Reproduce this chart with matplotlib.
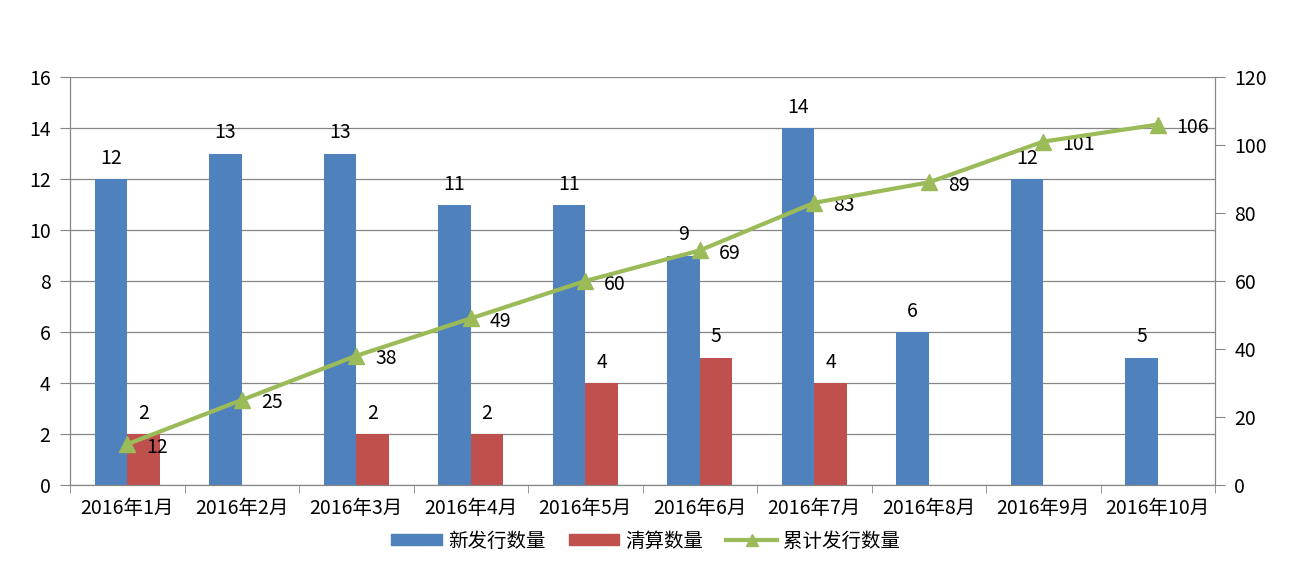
import matplotlib
matplotlib.use("Agg")
import matplotlib.pyplot as plt
import numpy as np
from matplotlib.lines import Line2D
from matplotlib.patches import Patch

plt.rcParams['font.family'] = ['Noto Sans CJK SC', 'DejaVu Sans']

categories = ["2016年1月", "2016年2月", "2016年3月", "2016年4月", "2016年5月",
              "2016年6月", "2016年7月", "2016年8月", "2016年9月", "2016年10月"]
new_issue = [12, 13, 13, 11, 11, 9, 14, 6, 12, 5]
cleared = [2, 0, 2, 2, 4, 5, 4, 0, 0, 0]
cumulative = [12, 25, 38, 49, 60, 69, 83, 89, 101, 106]
labels = ["新发行数量", "清算数量", "累计发行数量"]

blue = "#4F81BD"
red = "#C0504D"
green = "#9BBB59"
grid = "#868686"
FS = 14

fig = plt.figure(figsize=(12.91, 5.73), dpi=100)
ax = fig.add_axes([70/1291, 1-485/573, (1215-70)/1291, (485-77)/573])
ax2 = ax.twinx()

x = np.arange(len(categories))
w = 0.285
ax.bar(x - w/2, new_issue, w, color=blue, zorder=2)
ax.bar(x + w/2, cleared, w, color=red, zorder=2)

for xi, v in zip(x, new_issue):
    ax.annotate(str(v), (xi - w/2, v), xytext=(0, 10), textcoords="offset pixels",
                ha="center", va="bottom", fontsize=FS)
for xi, v in zip(x, cleared):
    if v:
        ax.annotate(str(v), (xi + w/2, v), xytext=(0, 10), textcoords="offset pixels",
                    ha="center", va="bottom", fontsize=FS)

ax2.plot(x, cumulative, color=green, lw=3, marker="^", ms=11, zorder=5, clip_on=False)
for xi, v in zip(x, cumulative):
    ax2.annotate(str(v), (xi, v), xytext=(19, -3), textcoords="offset pixels",
                 ha="left", va="center", fontsize=FS)

ax.set_xlim(-0.5, len(categories) - 0.5)
ax.set_ylim(0, 16)
ax.set_yticks(range(0, 17, 2))
ax2.set_ylim(0, 120)
ax2.set_yticks(range(0, 121, 20))

ax.set_xticks(x)
ax.set_xticklabels(categories, fontsize=FS)
ax.set_xticks(np.arange(-0.5, len(categories), 1), minor=True)
ax.tick_params(axis="x", which="major", length=0, pad=9)
ax.tick_params(axis="x", which="minor", length=6, color=grid, direction="out")
ax.tick_params(axis="y", length=7, color=grid, labelsize=FS, pad=7)
ax2.tick_params(axis="y", length=7, color=grid, labelsize=FS, pad=7)

ax.yaxis.grid(True, color=grid, lw=0.9)
ax.set_axisbelow(True)
for a in (ax, ax2):
    a.spines["top"].set_visible(False)
    for s in ("left", "right", "bottom"):
        a.spines[s].set_color(grid)
ax2.set_zorder(ax.get_zorder() + 1)
ax2.patch.set_visible(False)

handles = [Patch(color=blue), Patch(color=red),
           Line2D([], [], color=green, lw=3, marker="^", ms=9)]
fig.legend(handles, labels, loc="center", bbox_to_anchor=(0.5, 1-541/573), ncol=3,
           frameon=False, fontsize=FS, handlelength=2.6, handleheight=0.5,
           columnspacing=1.2, handletextpad=0.3)

fig.savefig("out.png", dpi=100)
